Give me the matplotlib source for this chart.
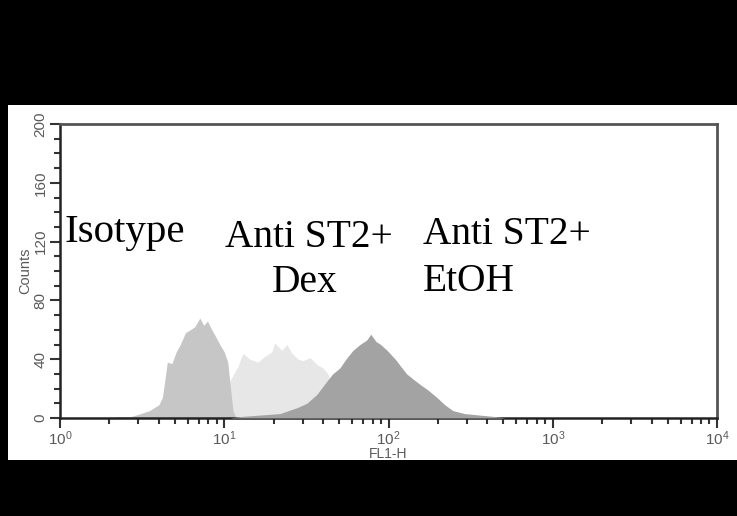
import numpy as np
import matplotlib
matplotlib.use('Agg')
import matplotlib.pyplot as plt
from matplotlib.patches import Rectangle
from matplotlib.ticker import LogLocator, FixedLocator, MultipleLocator

plt.rcParams['font.family'] = ['Liberation Sans', 'DejaVu Sans']
plt.rcParams['mathtext.fontset'] = 'custom'
plt.rcParams['mathtext.rm'] = 'Liberation Sans'
plt.rcParams['mathtext.it'] = 'Liberation Sans'

# FL1-H channel values and counts
iso_x = [2.0, 2.3, 2.7, 3.1, 3.5, 4.0, 4.2, 4.4, 4.5, 4.8, 5.1, 5.4, 5.8, 6.2, 6.6,
         7.1, 7.5, 7.9, 8.4, 8.9, 9.4, 10.0, 10.5, 10.8, 11.3, 11.8]
iso_y = [0, 1, 1, 3, 5, 9, 14, 30, 38, 37, 45, 50, 58, 60, 62,
         68, 63, 66, 60, 55, 50, 45, 38, 25, 5, 0]

dex_x = [5.4, 7.1, 9.4, 10.8, 12.1, 13.0, 14.3, 16.0, 17.7, 19.5, 20.3, 22.4, 24.1,
         25.8, 28.2, 30.1, 33.3, 37.1, 39.9, 42.8, 45.2, 50.5, 58.0, 67.0]
dex_y = [0, 4, 10, 25, 35, 44, 40, 38, 42, 45, 51, 46, 50,
         44, 40, 39, 41, 36, 34, 30, 20, 8, 3, 0]

etoh_x = [10.8, 12.5, 16.5, 21.8, 27.7, 31.8, 36.6, 42.1, 45.7, 50.5, 55.0, 60.7, 67.0,
          73.6, 78.0, 84.0, 89.6, 98.0, 110, 119, 129, 143, 155, 174, 197, 220, 247,
          291, 359, 444, 513]
etoh_y = [0, 1, 2, 3, 7, 10, 16, 25, 30, 34, 40, 46, 50,
          53, 57, 52, 50, 46, 40, 35, 30, 26, 23, 19, 14, 9, 5,
          3, 2, 1, 0]

W, H = 737, 516
fig = plt.figure(figsize=(W / 100, H / 100), dpi=100, facecolor='black')
fig.patches.append(Rectangle((8 / W, 1 - 460 / H), 729 / W, 355 / H,
                             transform=fig.transFigure, facecolor='white',
                             edgecolor='none', zorder=-1))

ax = fig.add_axes([60 / W, 1 - 418 / H, 657 / W, 294 / H])
ax.set_zorder(1)
ax.set_facecolor('white')

ax.fill_between(dex_x, 0, dex_y, color='#e7e7e7', linewidth=0, zorder=1)
ax.fill_between(iso_x, 0, iso_y, color='#c6c6c6', linewidth=0, zorder=2)
ax.fill_between(etoh_x, 0, etoh_y, color='#a3a3a3', linewidth=0, zorder=3)

ax.set_xscale('log')
ax.set_xlim(1, 1e4)
ax.set_ylim(0, 200)

ax.xaxis.set_minor_locator(LogLocator(base=10, subs=np.arange(2, 10), numticks=50))
ax.set_xticks([1, 10, 100, 1000, 10000])
ax.set_xticklabels([r'$10^{%d}$' % i for i in range(5)])
ax.yaxis.set_major_locator(FixedLocator([0, 40, 80, 120, 160, 200]))
ax.yaxis.set_minor_locator(MultipleLocator(10))

for lab in ax.get_yticklabels():
    lab.set_rotation(90)
    lab.set_va('center')

ax.tick_params(axis='both', which='major', direction='out', length=7, width=1.5,
               color='#333333', labelcolor='#5a5a5a', labelsize=11)
ax.tick_params(axis='both', which='minor', direction='out', length=4, width=1.5,
               color='#333333')
ax.tick_params(axis='y', pad=2)
ax.tick_params(axis='x', pad=1)

for s in ['left', 'bottom']:
    ax.spines[s].set_color('#222222')
    ax.spines[s].set_linewidth(1.8)
for s in ['top', 'right']:
    ax.spines[s].set_color('#555555')
    ax.spines[s].set_linewidth(2.0)

ax.set_xlabel('FL1-H', fontsize=10, color='#5a5a5a')
ax.xaxis.set_label_coords(0.5, -0.097)
ax.set_ylabel('Counts', fontsize=10.5, color='#5a5a5a', labelpad=1)

serif = dict(family=['Liberation Serif', 'DejaVu Serif'], fontsize=28.4,
             color='black', va='baseline', ha='left', zorder=5)
fig.text(65 / W, 1 - 242 / H, 'Isotype', **dict(serif, fontsize=29.5))
fig.text(225 / W, 1 - 247 / H, 'Anti ST2+', **serif)
fig.text(272 / W, 1 - 292 / H, 'Dex', **serif)
fig.text(423 / W, 1 - 244 / H, 'Anti ST2+', **serif)
fig.text(423 / W, 1 - 291 / H, 'EtOH', **serif)

fig.savefig('out.png', dpi=100, facecolor='black')
